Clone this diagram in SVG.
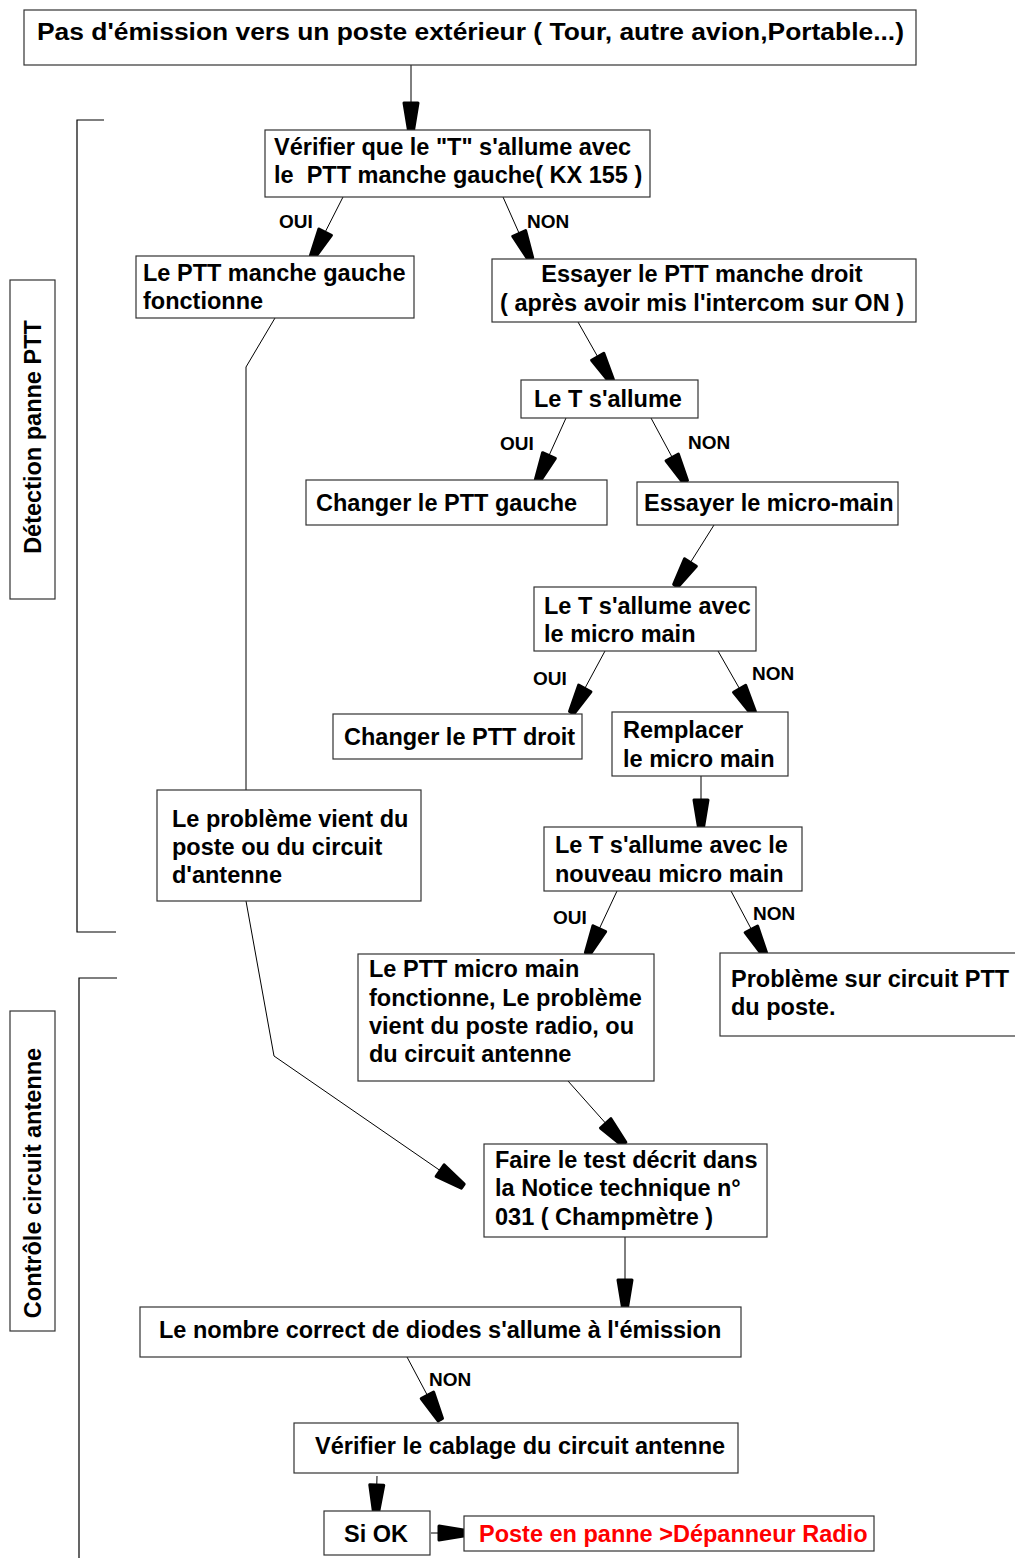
<svg xmlns="http://www.w3.org/2000/svg" width="1015" height="1558" viewBox="0 0 1015 1558">
<style>
.box{fill:#fff;stroke:#333;stroke-width:1.2}
.t{font-family:"Liberation Sans",Arial,sans-serif;font-weight:bold;font-size:23.5px;fill:#000}
.lbl{font-family:"Liberation Sans",Arial,sans-serif;font-weight:bold;font-size:19px;fill:#000}
.red{fill:#ff0000}
.c{fill:none;stroke:#000;stroke-width:1}
.br{fill:none;stroke:#000;stroke-width:1.2}
</style>
<defs>
<marker id="ah" markerUnits="userSpaceOnUse" orient="auto" refX="0" refY="0" markerWidth="40" markerHeight="24" viewBox="-35 -12 40 24" overflow="visible">
<path d="M-29,-7 L-1.5,-2.5 L-1.5,2.5 L-29,7 Z" fill="#000" stroke="#000" stroke-width="3" stroke-linejoin="round"/>
</marker>
</defs>
<rect width="1015" height="1558" fill="#fff"/>

<g id="brackets">
<polyline class="br" points="104,120 77,120 77,932 116,932"/>
<polyline class="br" points="117,978 79,978 79,1558"/>
</g>
<g id="sec1">
<rect class="box" x="10" y="280" width="45" height="319"/>
<text class="t" transform="translate(41,437) rotate(-90)" text-anchor="middle">Détection panne PTT</text>
</g>
<g id="sec2">
<rect class="box" x="10" y="1011" width="45" height="320"/>
<text class="t" transform="translate(41,1183) rotate(-90)" text-anchor="middle">Contrôle circuit antenne</text>
</g>

<g id="connectors">
<line class="c" x1="411" y1="65" x2="411" y2="132" marker-end="url(#ah)"/>
<line class="c" x1="343" y1="197" x2="312" y2="258" marker-end="url(#ah)"/>
<line class="c" x1="503" y1="197" x2="531" y2="260" marker-end="url(#ah)"/>
<polyline class="c" points="275,318 246,367 246,790"/>
<line class="c" x1="578" y1="322" x2="612" y2="382" marker-end="url(#ah)"/>
<line class="c" x1="566" y1="418" x2="537" y2="482" marker-end="url(#ah)"/>
<line class="c" x1="651" y1="418" x2="686" y2="483" marker-end="url(#ah)"/>
<line class="c" x1="714" y1="525" x2="675" y2="587" marker-end="url(#ah)"/>
<line class="c" x1="605" y1="651" x2="571" y2="714" marker-end="url(#ah)"/>
<line class="c" x1="718" y1="651" x2="754" y2="714" marker-end="url(#ah)"/>
<line class="c" x1="701" y1="776" x2="701" y2="829" marker-end="url(#ah)"/>
<line class="c" x1="617" y1="891" x2="587" y2="955" marker-end="url(#ah)"/>
<line class="c" x1="731" y1="891" x2="765" y2="955" marker-end="url(#ah)"/>
<line class="c" x1="568" y1="1081" x2="625" y2="1145" marker-end="url(#ah)"/>
<polyline class="c" points="246,901 274,1056 464,1187" marker-end="url(#ah)"/>
<line class="c" x1="625" y1="1237" x2="625" y2="1309" marker-end="url(#ah)"/>
<line class="c" x1="407" y1="1357" x2="441" y2="1421" marker-end="url(#ah)"/>
<line class="c" x1="377" y1="1476" x2="376" y2="1514" marker-end="url(#ah)"/>
<line class="c" x1="431" y1="1533" x2="468" y2="1533" marker-end="url(#ah)"/>
</g>

<g id="labels">
<text class="lbl" x="279" y="228">OUI</text>
<text class="lbl" x="527" y="228">NON</text>
<text class="lbl" x="500" y="450">OUI</text>
<text class="lbl" x="688" y="449">NON</text>
<text class="lbl" x="533" y="685">OUI</text>
<text class="lbl" x="752" y="680">NON</text>
<text class="lbl" x="553" y="924">OUI</text>
<text class="lbl" x="753" y="920">NON</text>
<text class="lbl" x="429" y="1386">NON</text>
</g>

<g id="n-title">
<rect class="box" x="24" y="10" width="892" height="55"/>
<text class="t" x="37" y="40" font-size="23" textLength="867" lengthAdjust="spacingAndGlyphs">Pas d'émission vers un poste extérieur ( Tour, autre avion,Portable...)</text>
</g>
<g id="n-verifier">
<rect class="box" x="265" y="130" width="385" height="67"/>
<text class="t" x="274" y="155">Vérifier que le "T" s'allume avec</text>
<text class="t" x="274" y="183" xml:space="preserve">le  PTT manche gauche( KX 155 )</text>
</g>
<g id="n-gauche-ok">
<rect class="box" x="136" y="256" width="278" height="62"/>
<text class="t" x="143" y="281">Le PTT manche gauche</text>
<text class="t" x="143" y="309">fonctionne</text>
</g>
<g id="n-essayer-droit">
<rect class="box" x="492" y="259" width="424" height="63"/>
<text class="t" x="702" y="282" text-anchor="middle">Essayer le PTT manche droit</text>
<text class="t" x="702" y="311" text-anchor="middle">( après avoir mis l'intercom sur ON )</text>
</g>
<g id="n-t-allume">
<rect class="box" x="521" y="380" width="177" height="38"/>
<text class="t" x="534" y="407">Le T s'allume</text>
</g>
<g id="n-changer-gauche">
<rect class="box" x="306" y="480" width="301" height="45"/>
<text class="t" x="316" y="511">Changer le PTT gauche</text>
</g>
<g id="n-micro-main">
<rect class="box" x="637" y="482" width="261" height="43"/>
<text class="t" x="644" y="511">Essayer le micro-main</text>
</g>
<g id="n-t-micro">
<rect class="box" x="534" y="587" width="222" height="64"/>
<text class="t" x="544" y="614">Le T s'allume avec</text>
<text class="t" x="544" y="642">le micro main</text>
</g>
<g id="n-changer-droit">
<rect class="box" x="333" y="714" width="249" height="45"/>
<text class="t" x="344" y="745">Changer le PTT droit</text>
</g>
<g id="n-remplacer">
<rect class="box" x="612" y="712" width="176" height="64"/>
<text class="t" x="623" y="738">Remplacer</text>
<text class="t" x="623" y="767">le micro main</text>
</g>
<g id="n-probleme-poste">
<rect class="box" x="157" y="790" width="264" height="111"/>
<text class="t" x="172" y="827">Le problème vient du</text>
<text class="t" x="172" y="855">poste ou du circuit</text>
<text class="t" x="172" y="883">d'antenne</text>
</g>
<g id="n-t-nouveau">
<rect class="box" x="544" y="827" width="258" height="64"/>
<text class="t" x="555" y="853">Le T s'allume avec le</text>
<text class="t" x="555" y="882">nouveau micro main</text>
</g>
<g id="n-ptt-micro-ok">
<rect class="box" x="358" y="954" width="296" height="127"/>
<text class="t" x="369" y="977">Le PTT micro main</text>
<text class="t" x="369" y="1006">fonctionne, Le problème</text>
<text class="t" x="369" y="1034">vient du poste radio, ou</text>
<text class="t" x="369" y="1062">du circuit antenne</text>
</g>
<g id="n-circuit-ptt">
<rect class="box" x="720" y="953" width="300" height="83"/>
<text class="t" x="731" y="987">Problème sur circuit PTT</text>
<text class="t" x="731" y="1015">du poste.</text>
</g>
<g id="n-test">
<rect class="box" x="484" y="1144" width="283" height="93"/>
<text class="t" x="495" y="1168">Faire le test décrit dans</text>
<text class="t" x="495" y="1196">la Notice technique n°</text>
<text class="t" x="495" y="1225">031 ( Champmètre )</text>
</g>
<g id="n-diodes">
<rect class="box" x="140" y="1307" width="601" height="50"/>
<text class="t" x="159" y="1338">Le nombre correct de diodes s'allume à l'émission</text>
</g>
<g id="n-cablage">
<rect class="box" x="294" y="1423" width="444" height="50"/>
<text class="t" x="315" y="1454">Vérifier le cablage du circuit antenne</text>
</g>
<g id="n-si-ok">
<rect class="box" x="324" y="1511" width="106" height="44"/>
<text class="t" x="344" y="1542">Si OK</text>
</g>
<g id="n-panne">
<rect class="box" x="464" y="1516" width="410" height="35"/>
<text class="t red" x="479" y="1542">Poste en panne &gt;Dépanneur Radio</text>
</g>
</svg>
